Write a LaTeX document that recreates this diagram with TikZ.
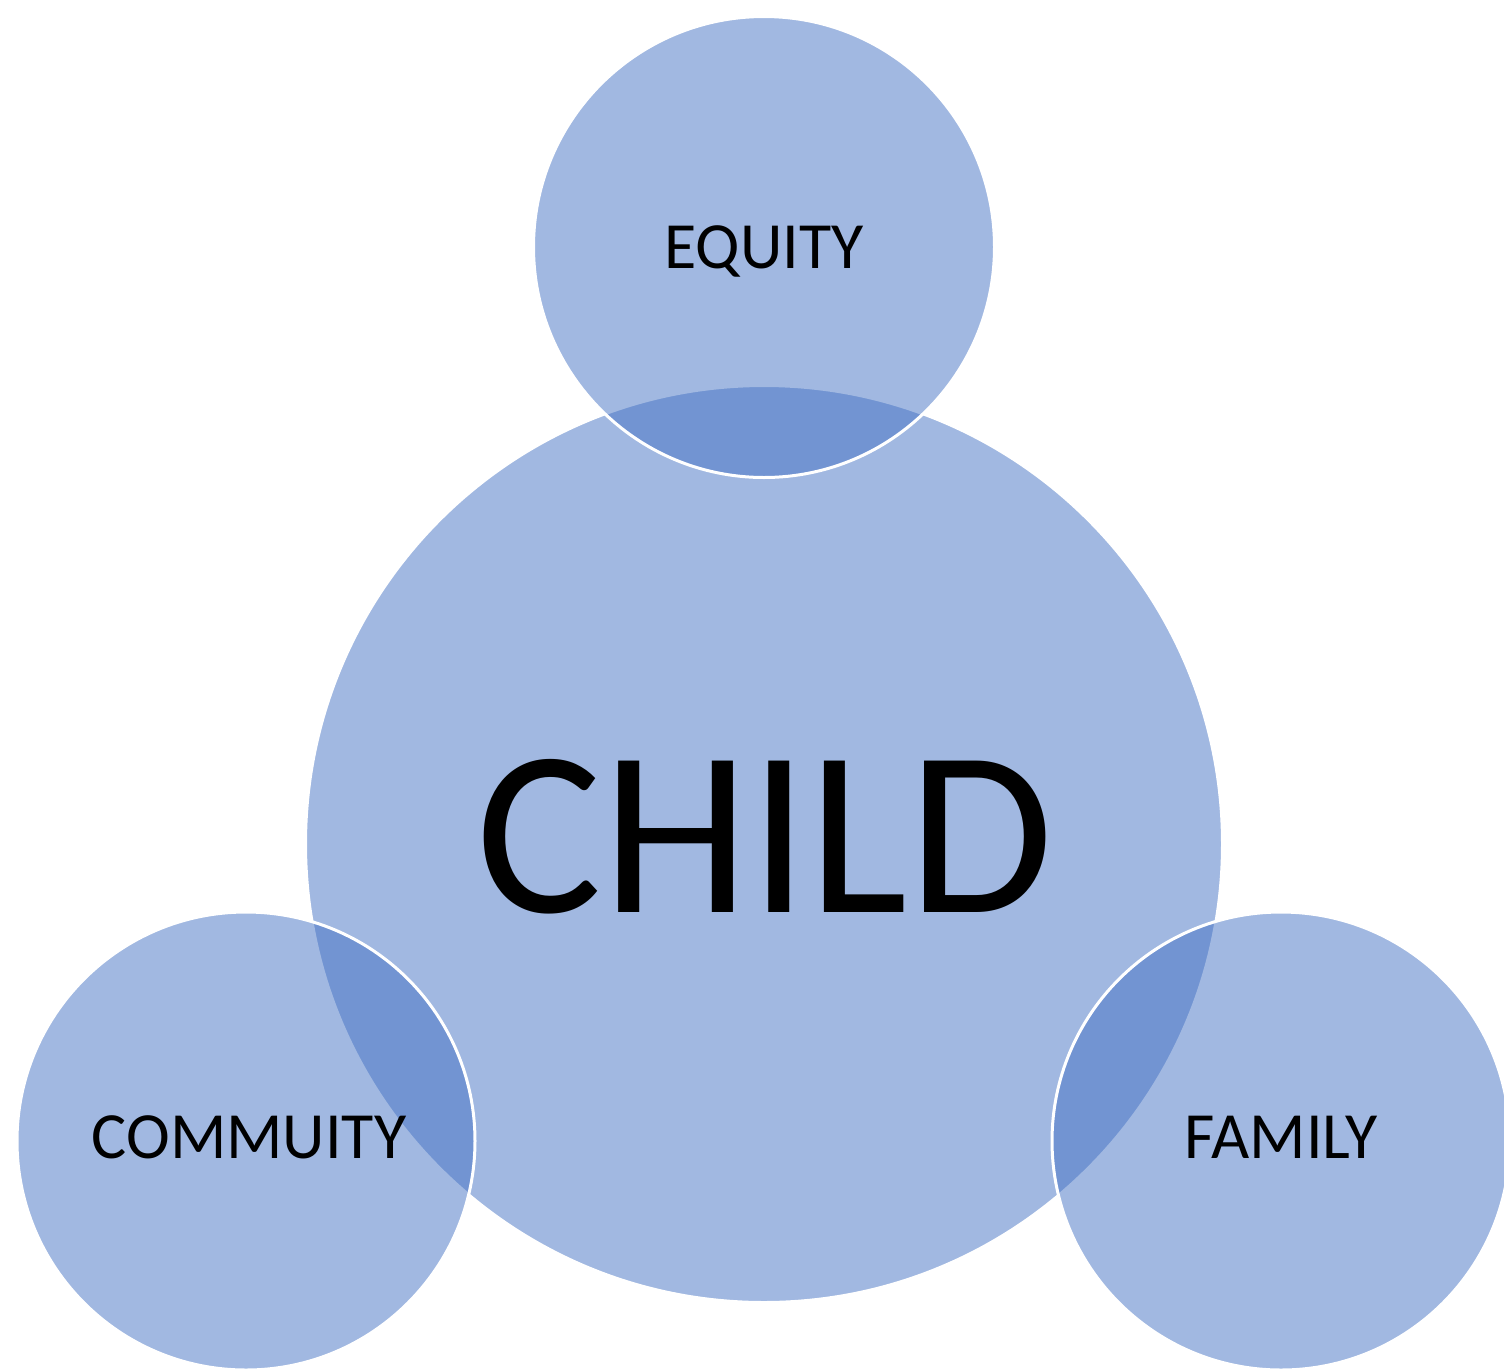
\documentclass[tikz,border=0pt]{standalone}
\usepackage{fontspec}
\setmainfont{Carlito}
\definecolor{accent}{HTML}{4472C4}
\begin{document}
\begin{tikzpicture}[x=1pt,y=-1pt,
  bubble/.style={circle, inner sep=0pt, fill=accent, fill opacity=0.5,
    text opacity=1, draw=white, line width=3pt, text=black},
  bigtext/.style={font=\fontsize{236}{240}\selectfont},
  smalltext/.style={font=\fontsize{66}{70}\selectfont}]
\useasboundingbox[fill=white] (0,0) rectangle (1504,1371);
\node[bubble, minimum size=917pt] (child) at (764,844) {};
\node[bubble, minimum size=461pt] (equity) at (764,247) {};
\node[bubble, minimum size=458pt] (commu) at (246,1141) {};
\node[bubble, minimum size=458pt] (family) at (1281,1141) {};
\node[bigtext, anchor=base, inner sep=0pt] (childlbl) at (765,912) {CHILD};
\node[smalltext, anchor=base, inner sep=0pt] (equitylbl) at (764,268) {EQUITY};
\node[smalltext, anchor=base, inner sep=0pt] (commulbl) at (249,1158) {COMMUITY};
\node[smalltext, anchor=base, inner sep=0pt] (familylbl) at (1281,1158) {FAMILY};
\end{tikzpicture}
\end{document}
